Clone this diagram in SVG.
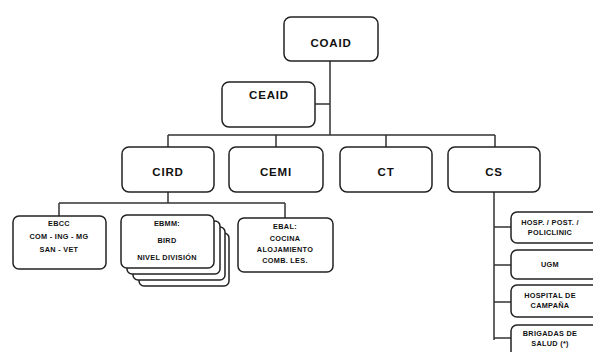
<svg xmlns="http://www.w3.org/2000/svg" width="593" height="352" viewBox="0 0 593 352">
<style>
.box{fill:#fff;stroke:#222;stroke-width:1.5}
.ln{stroke:#333;stroke-width:1.5;fill:none}
.t{font-family:"Liberation Sans",Arial,sans-serif;font-weight:bold;fill:#111;text-anchor:middle}
.big{font-size:11.5px;letter-spacing:0.8px}
.sm{font-size:7.3px;letter-spacing:0.3px}
</style>
<rect width="593" height="352" fill="#fff"/>
<g id="connectors">
<path class="ln" d="M330 61V135M315 104H330M168 135H495M168 135V147M276 135V147M386 135V147M495 135V147"/>
<path class="ln" d="M168 192V203M59 203H285M59 203V216M285 203V218"/>
<path class="ln" d="M494 192V340M494 227H511M494 265H511M494 302H511M494 338H511"/>
</g>
<g id="coaid"><rect class="box" x="284" y="17" width="94" height="44" rx="7"/><text class="t big" x="331" y="47">COAID</text></g>
<g id="ceaid"><rect class="box" x="222" y="82" width="93" height="45" rx="7"/><text class="t big" x="269" y="99">CEAID</text></g>
<g id="cird"><rect class="box" x="122" y="147" width="92" height="45" rx="7"/><text class="t big" x="168" y="176">CIRD</text></g>
<g id="cemi"><rect class="box" x="229" y="147" width="94" height="45" rx="7"/><text class="t big" x="276" y="176">CEMI</text></g>
<g id="ct"><rect class="box" x="340" y="147" width="92" height="45" rx="7"/><text class="t big" x="386" y="176">CT</text></g>
<g id="cs"><rect class="box" x="448" y="147" width="92" height="45" rx="7"/><text class="t big" x="494" y="176">CS</text></g>
<g id="ebcc"><rect class="box" x="13" y="216" width="93" height="53" rx="6"/>
<text class="t sm" x="59" y="226">EBCC</text><text class="t sm" x="59" y="239">COM - ING - MG</text><text class="t sm" x="59" y="252">SAN - VET</text></g>
<g id="ebmm">
<rect class="box" x="139" y="233" width="90" height="53" rx="5"/>
<rect class="box" x="133" y="227" width="92" height="53" rx="5"/>
<rect class="box" x="127" y="221" width="93" height="53" rx="5"/>
<rect class="box" x="121" y="215" width="93" height="53" rx="6"/>
<text class="t sm" x="167" y="226">EBMM:</text><text class="t sm" x="167" y="243">BIRD</text><text class="t sm" x="167" y="260">NIVEL DIVISIÓN</text></g>
<g id="ebal"><rect class="box" x="238" y="218" width="95" height="54" rx="6"/>
<text class="t sm" x="285" y="229">EBAL:</text><text class="t sm" x="285" y="241">COCINA</text><text class="t sm" x="285" y="252">ALOJAMIENTO</text><text class="t sm" x="285" y="263">COMB. LES.</text></g>
<g id="hosp"><rect class="box" x="511" y="212" width="90" height="31" rx="6"/>
<text class="t sm" x="550" y="225">HOSP. / POST. /</text><text class="t sm" x="550" y="235">POLICLINIC</text></g>
<g id="ugm"><rect class="box" x="511" y="250" width="90" height="29" rx="6"/><text class="t sm" x="550" y="267">UGM</text></g>
<g id="hcamp"><rect class="box" x="511" y="285" width="90" height="32" rx="6"/>
<text class="t sm" x="550" y="298">HOSPITAL DE</text><text class="t sm" x="550" y="308">CAMPAÑA</text></g>
<g id="brig"><rect class="box" x="511" y="325" width="90" height="40" rx="6"/>
<text class="t sm" x="550" y="336">BRIGADAS DE</text><text class="t sm" x="550" y="346">SALUD (*)</text></g>
</svg>
